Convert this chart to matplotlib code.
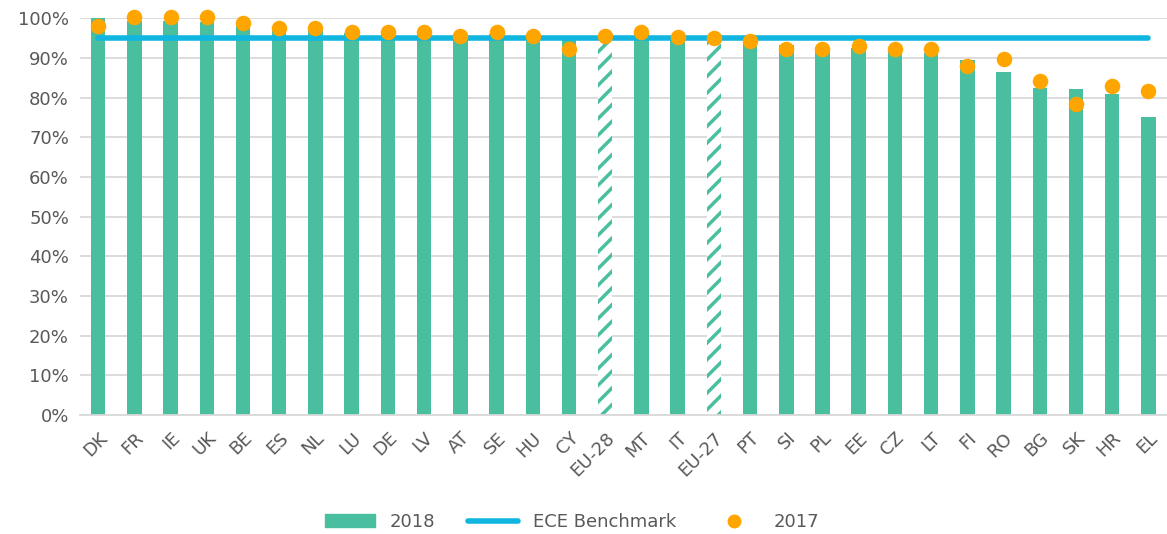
import numpy as np
import matplotlib
matplotlib.use('Agg')
import matplotlib.pyplot as plt
from matplotlib.lines import Line2D
from matplotlib.patches import Patch

countries = ['DK', 'FR', 'IE', 'UK', 'BE', 'ES', 'NL', 'LU', 'DE', 'LV', 'AT', 'SE', 'HU', 'CY',
             'EU-28', 'MT', 'IT', 'EU-27', 'PT', 'SI', 'PL', 'EE', 'CZ', 'LT', 'FI', 'RO', 'BG',
             'SK', 'HR', 'EL']
v2018 = [100.0, 99.3, 99.3, 99.0, 98.0, 97.0, 97.0, 96.3, 96.0, 96.0, 95.5, 96.0, 95.3, 94.5,
         94.8, 96.0, 95.0, 94.8, 94.0, 93.2, 92.7, 92.4, 92.0, 91.2, 89.4, 86.4, 82.4,
         82.1, 80.9, 75.1]
v2017 = [98.0, 100.2, 100.2, 100.2, 98.7, 97.4, 97.6, 96.5, 96.4, 96.4, 95.6, 96.4, 95.6, 92.2,
         95.4, 96.6, 95.2, 95.0, 94.3, 92.2, 92.2, 93.0, 92.2, 92.2, 87.9, 89.7, 84.1,
         78.3, 82.9, 81.6]
benchmark = 95
eu_aggregates = ['EU-28', 'EU-27']

teal = '#49BF9F'
blue = '#10B6E0'
orange = '#FFA500'
grey = '#595959'

plt.rcParams['font.family'] = ['Verdana', 'DejaVu Sans']
plt.rcParams['hatch.linewidth'] = 2.5
plt.rcParams['hatch.color'] = teal

fig = plt.figure(figsize=(11.67, 5.34), dpi=100)
ax = fig.add_axes([0.0686, 0.223, 0.931, 0.743])

x = np.arange(len(countries))
y18 = np.array(v2018) / 100
y17 = np.array(v2017) / 100

for i, c in enumerate(countries):
    if c in eu_aggregates:
        ax.bar(x[i], y18[i], width=0.4, facecolor='white', edgecolor=teal,
               hatch='//', linewidth=0, zorder=2)
    else:
        ax.bar(x[i], y18[i], width=0.4, color=teal, zorder=2)

ax.plot([x[0], x[-1]], [benchmark / 100] * 2, color=blue, lw=4, solid_capstyle='round', zorder=3)
ax.scatter(x, y17, s=125, color=orange, zorder=4, clip_on=False, linewidths=0)

ax.set_xlim(-0.5, 29.5)
ax.set_ylim(0, 1.0)
ax.set_yticks(np.arange(0, 1.01, 0.1))
ax.set_yticklabels([f'{int(round(t * 100))}%' for t in np.arange(0, 1.01, 0.1)])
ax.yaxis.grid(True, color='#D9D9D9', lw=1.3, zorder=0)
ax.set_axisbelow(True)
ax.set_xticks(x)
ax.set_xticklabels(countries, rotation=45, ha='right', rotation_mode='anchor')
for s in ['top', 'right', 'left']:
    ax.spines[s].set_visible(False)
ax.spines['bottom'].set_color('#D9D9D9')
ax.spines['bottom'].set_linewidth(1.3)
ax.tick_params(axis='both', length=0, labelsize=13, colors=grey)
ax.tick_params(axis='y', pad=8)
ax.tick_params(axis='x', pad=10)

handles = [Patch(color=teal), Line2D([], [], color=blue, lw=4, solid_capstyle='round'),
           Line2D([], [], marker='o', ls='', color=orange, markersize=9)]
fig.legend(handles, ['2018', 'ECE Benchmark', '2017'], loc='lower center',
           bbox_to_anchor=(0.49, -0.025), ncol=3, frameon=False, fontsize=13,
           labelcolor=grey, handlelength=2.8, columnspacing=1.8)

fig.savefig('out.png', dpi=100)
